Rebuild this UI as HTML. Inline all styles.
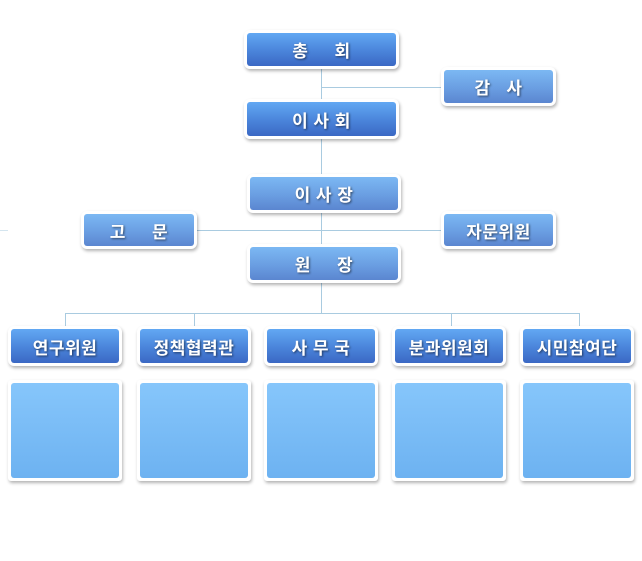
<!DOCTYPE html>
<html><head><meta charset="utf-8"><style>
html,body{margin:0;padding:0;background:#fff;}
body{width:642px;height:561px;position:relative;overflow:hidden;font-family:"Liberation Sans","Noto Sans CJK KR","NanumGothic",sans-serif;}
.l{position:absolute;background:#a9cbe0;}
.b{position:absolute;box-sizing:border-box;background:#fff;border-radius:6px;padding:3px;box-shadow:1px 2px 3px rgba(0,0,0,.3);}
.b div{width:100%;height:100%;border-radius:3px;color:#fff;font-weight:bold;font-size:17px;letter-spacing:0.5px;display:flex;align-items:center;justify-content:center;text-shadow:1px 1px 2px rgba(0,0,0,.55);white-space:pre;}
.d div{background:linear-gradient(#62a8f3,#4a84da 55%,#3b68c4);}
.g div{background:linear-gradient(#7cb8f3,#6a9ee2 55%,#5b86d0);}
.s div{background:linear-gradient(#86c6fb,#6db2f1);}
</style></head><body>
<div class="l" style="left:321px;top:69px;width:1px;height:244px"></div>
<div class="l" style="left:321px;top:87px;width:120px;height:1px"></div>
<div class="l" style="left:197px;top:230px;width:244px;height:1px"></div>
<div class="l" style="left:0px;top:230px;width:8px;height:1px;opacity:.5"></div>
<div class="l" style="left:65px;top:313px;width:515px;height:1px"></div>
<div class="l" style="left:65px;top:313px;width:1px;height:13px"></div>
<div class="l" style="left:194px;top:313px;width:1px;height:13px"></div>
<div class="l" style="left:451px;top:313px;width:1px;height:13px"></div>
<div class="l" style="left:579px;top:313px;width:1px;height:13px"></div>

<div class="b d" style="left:244px;top:30px;width:155px;height:39px"><div>총     회</div></div>
<div class="b g" style="left:441px;top:67px;width:115px;height:39px"><div>감   사</div></div>
<div class="b d" style="left:244px;top:99px;width:155px;height:40px"><div>이 사 회</div></div>
<div class="b g" style="left:247px;top:174px;width:154px;height:39px"><div>이 사 장</div></div>
<div class="b g" style="left:81px;top:211px;width:116px;height:38px"><div>고     문</div></div>
<div class="b g" style="left:441px;top:211px;width:115px;height:38px"><div>자문위원</div></div>
<div class="b g" style="left:247px;top:244px;width:154px;height:39px"><div>원     장</div></div>

<div class="b d" style="left:8px;top:326px;width:114px;height:40px"><div>연구위원</div></div>
<div class="b d" style="left:137px;top:326px;width:114px;height:40px"><div>정책협력관</div></div>
<div class="b d" style="left:264px;top:326px;width:114px;height:40px"><div>사 무 국</div></div>
<div class="b d" style="left:392px;top:326px;width:114px;height:40px"><div>분과위원회</div></div>
<div class="b d" style="left:520px;top:326px;width:114px;height:40px"><div>시민참여단</div></div>

<div class="b s" style="left:8px;top:380px;width:114px;height:101px;border-radius:3px"><div></div></div>
<div class="b s" style="left:137px;top:380px;width:114px;height:101px;border-radius:3px"><div></div></div>
<div class="b s" style="left:264px;top:380px;width:114px;height:101px;border-radius:3px"><div></div></div>
<div class="b s" style="left:392px;top:380px;width:114px;height:101px;border-radius:3px"><div></div></div>
<div class="b s" style="left:520px;top:380px;width:114px;height:101px;border-radius:3px"><div></div></div>
</body></html>
